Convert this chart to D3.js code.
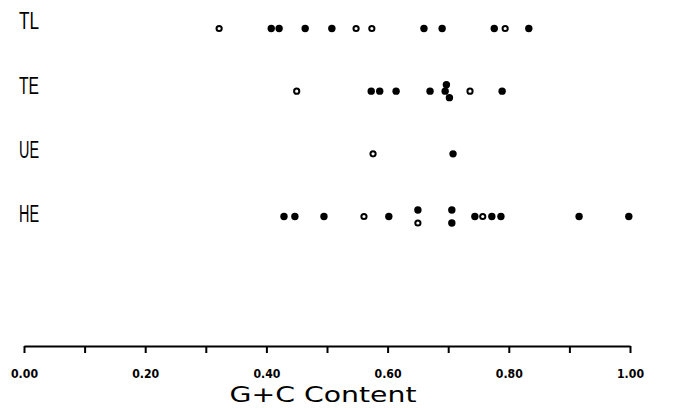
<!DOCTYPE html>
<html>
<head>
<meta charset="utf-8">
<script src="https://cdn.jsdelivr.net/npm/d3@7"></script>
<style>
  html, body { margin: 0; padding: 0; background: #fff; }
  svg { display: block; }
</style>
</head>
<body>
<svg id="chart" width="684" height="408"></svg>
<script>
// Groups, top to bottom
const groups = ["TL", "TE", "UE", "HE"];

// G+C content per group; open = hollow marker, lane = vertical stacking slot for coinciding values
const tlValues = [0.322, 0.408, 0.421, 0.464, 0.508, 0.548, 0.574, 0.660, 0.690, 0.776, 0.794, 0.833];
const tlOpen   = [true, false, false, false, false, true, true, false, false, false, true, false];
const tlLane   = [0, 0, 0, 0, 0, 0, 0, 0, 0, 0, 0, 0];

const teValues = [0.450, 0.573, 0.587, 0.614, 0.670, 0.697, 0.695, 0.702, 0.736, 0.789];
const teOpen   = [true, false, false, false, false, false, false, false, true, false];
const teLane   = [0, 0, 0, 0, 0, -1, 0, 1, 0, 0];

const ueValues = [0.576, 0.708];
const ueOpen   = [true, false];
const ueLane   = [0, 0];

const heValues = [0.429, 0.447, 0.495, 0.561, 0.602, 0.650, 0.650, 0.706, 0.706, 0.744, 0.757, 0.772, 0.787, 0.916, 0.998];
const heOpen   = [false, false, false, true, false, false, true, false, false, false, true, false, false, false, false];
const heLane   = [0, 0, 0, 0, 0, -1, 1, -1, 1, 0, 0, 0, 0, 0, 0];

// Axis ticks: every 0.1, labelled every 0.2
const tickValues = [0, 0.1, 0.2, 0.3, 0.4, 0.5, 0.6, 0.7, 0.8, 0.9, 1.0];
const tickLabels = ["0.00", "", "0.20", "", "0.40", "", "0.60", "", "0.80", "", "1.00"];
const axisTitle = "G+C Content";

const series = [
  { group: "TL", values: tlValues, open: tlOpen, lane: tlLane },
  { group: "TE", values: teValues, open: teOpen, lane: teLane },
  { group: "UE", values: ueValues, open: ueOpen, lane: ueLane },
  { group: "HE", values: heValues, open: heOpen, lane: heLane }
];

const svg = d3.select("#chart");

const x = d3.scaleLinear().domain([0, 1]).range([24, 630]);
const yRow = d3.scalePoint().domain(groups).range([28.5, 216.5]);
const yLabel = d3.scalePoint().domain(groups).range([21, 214]);
const laneGap = 6.5;

// Group labels on the left
svg.append("g")
  .selectAll("text")
  .data(groups)
  .join("text")
  .attr("x", 19)
  .attr("y", d => yLabel(d))
  .attr("dy", "0.36em")
  .attr("font-family", "Liberation Sans, Arial, sans-serif")
  .attr("font-size", 23)
  .attr("textLength", 20)
  .attr("lengthAdjust", "spacingAndGlyphs")
  .attr("fill", "#000")
  .text(d => d);

// Points
const points = series.flatMap(s => s.values.map((v, i) => ({
  group: s.group, v, open: s.open[i], lane: s.lane[i]
})));

svg.append("g")
  .selectAll("circle")
  .data(points)
  .join("circle")
  .attr("cx", d => x(d.v))
  .attr("cy", d => yRow(d.group) + d.lane * laneGap)
  .attr("r", d => d.open ? 2.6 : 3.7)
  .attr("fill", d => d.open ? "#fff" : "#000")
  .attr("stroke", "#000")
  .attr("stroke-width", d => d.open ? 2 : 0);

// Bottom axis
const axisY = 346;
const axis = d3.axisBottom(x)
  .tickValues(tickValues)
  .tickFormat((d, i) => tickLabels[i])
  .tickSize(7)
  .tickSizeOuter(0)
  .tickPadding(17);

const gAxis = svg.append("g")
  .attr("transform", `translate(0,${axisY})`)
  .call(axis);

gAxis.select(".domain").attr("stroke", "#000").attr("stroke-width", 2);
gAxis.selectAll(".tick line").attr("stroke", "#000").attr("stroke-width", 2);
gAxis.selectAll(".tick text")
  .attr("fill", "#000")
  .attr("font-family", "DejaVu Sans, sans-serif")
  .attr("font-weight", "bold")
  .attr("font-size", 11.5)
  .attr("textLength", d => tickLabels[tickValues.indexOf(d)] ? 27 : null)
  .attr("lengthAdjust", "spacingAndGlyphs");

// Axis title
svg.append("text")
  .attr("x", 323)
  .attr("y", 402)
  .attr("text-anchor", "middle")
  .attr("font-family", "DejaVu Sans, sans-serif")
  .attr("font-size", 22)
  .attr("textLength", 187)
  .attr("lengthAdjust", "spacingAndGlyphs")
  .attr("fill", "#000")
  .text(axisTitle);
</script>
</body>
</html>
